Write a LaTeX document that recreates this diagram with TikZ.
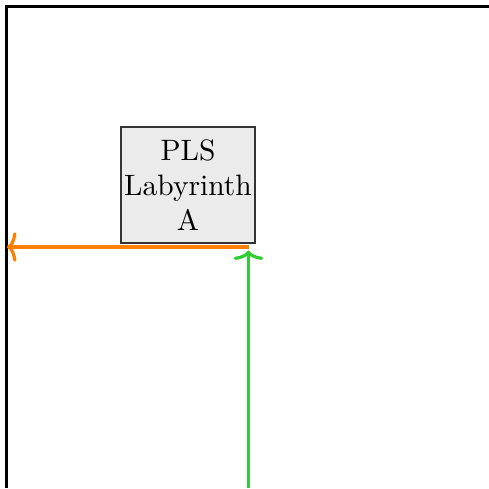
\documentclass[tikz,border=0pt]{standalone}
\usetikzlibrary{positioning,arrows.meta}
\definecolor{pathorange}{RGB}{255,128,0}
\definecolor{pathgreen}{RGB}{50,205,50}
\begin{document}
\begin{tikzpicture}[x=0.339pt,y=-0.339pt]
        \useasboundingbox (0,0) rectangle (489,488);
        \tikzstyle{wall}=[draw=black, line width=0.8pt];
        \tikzstyle{room}=[draw=black!80, fill=black!8, align=center, minimum width=45.4pt, minimum height=39.3pt, inner sep=1pt];
        \tikzstyle{walk}=[-{To[length=3.2pt,width=10pt]}, line width=1.1pt];
        \draw[wall] (6.5,488) -- (6.5,6.5) -- (489,6.5);
        \node (lab) [room] at (188,185) {PLS\\Labyrinth\\A};
        \coordinate (turn) at (248.5,247);
        \coordinate (exitW) at (7,247);
        \coordinate (entryS) at (248.5,488);
        \coordinate (entryN) at (248.5,250.5);
        \draw[walk, pathgreen] (entryS) -- (entryN);
        \draw[walk, pathorange] (turn) -- (exitW);
    \end{tikzpicture}
\end{document}
